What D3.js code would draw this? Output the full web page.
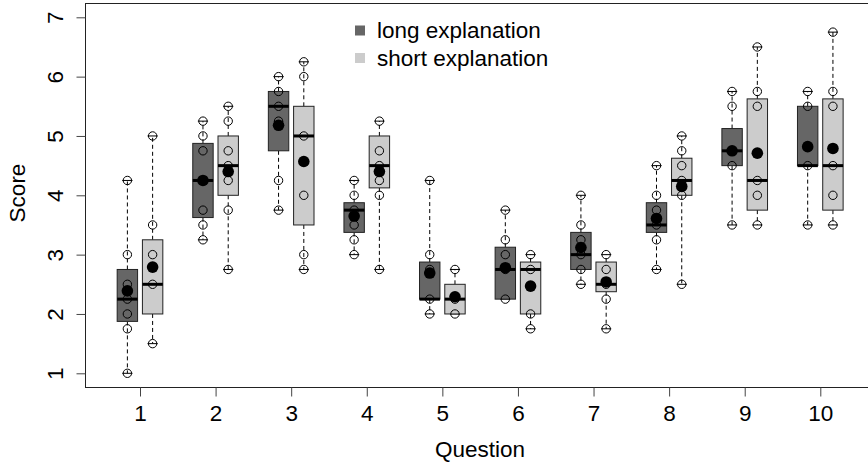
<!DOCTYPE html>
<html>
<head>
<meta charset="utf-8">
<script src="https://cdn.jsdelivr.net/npm/d3@7"></script>
<style>
  html, body { margin: 0; padding: 0; background: #fff; }
  svg { display: block; }
  text { font-family: "Liberation Sans", Arial, Helvetica, sans-serif; fill: #000; }
</style>
</head>
<body>
<svg id="chart" width="868" height="464"></svg>
<script>
// ---- data ----
const questions = ["1","2","3","4","5","6","7","8","9","10"];
const seriesNames = ["long explanation", "short explanation"];
const yTicks = [1,2,3,4,5,6,7];

// [min, q1, median, q3, max]
const longStats = [
  [1.0, 1.875, 2.25, 2.75, 4.25],
  [3.25, 3.625, 4.25, 4.875, 5.25],
  [3.75, 4.75, 5.5, 5.75, 6.0],
  [3.0, 3.375, 3.75, 3.875, 4.25],
  [2.0, 2.25, 2.25, 2.875, 4.25],
  [2.25, 2.25, 2.75, 3.125, 3.75],
  [2.5, 2.75, 3.0, 3.375, 4.0],
  [2.75, 3.375, 3.5, 3.875, 4.5],
  [3.5, 4.5, 4.75, 5.125, 5.75],
  [3.5, 4.5, 4.5, 5.5, 5.75]
];
const shortStats = [
  [1.5, 2.0, 2.5, 3.25, 5.0],
  [2.75, 4.0, 4.5, 5.0, 5.5],
  [2.75, 3.5, 5.0, 5.5, 6.25],
  [2.75, 4.125, 4.5, 5.0, 5.25],
  [2.0, 2.0, 2.25, 2.5, 2.75],
  [1.75, 2.0, 2.75, 2.875, 3.0],
  [1.75, 2.375, 2.5, 2.875, 3.0],
  [2.5, 4.0, 4.25, 4.625, 5.0],
  [3.5, 3.75, 4.25, 5.625, 6.5],
  [3.5, 3.75, 4.5, 5.625, 6.75]
];
const longMeans  = [2.39, 4.25, 5.18, 3.65, 2.69, 2.78, 3.12, 3.61, 4.75, 4.82];
const shortMeans = [2.79, 4.40, 4.57, 4.40, 2.29, 2.47, 2.54, 4.15, 4.71, 4.79];
const longPoints = [
  [1.0, 1.75, 2.0, 2.25, 2.5, 3.0, 4.25],
  [3.25, 3.5, 3.75, 4.25, 4.75, 5.0, 5.25],
  [3.75, 4.25, 5.25, 5.5, 5.75, 6.0],
  [3.0, 3.25, 3.5, 3.75, 4.0, 4.25],
  [2.0, 2.25, 2.75, 3.0, 4.25],
  [2.25, 2.75, 3.0, 3.25, 3.75],
  [2.5, 2.75, 3.0, 3.25, 3.5, 4.0],
  [2.75, 3.25, 3.5, 3.75, 4.0, 4.5],
  [3.5, 4.5, 4.75, 5.5, 5.75],
  [3.5, 4.5, 5.5, 5.75]
];
const shortPoints = [
  [1.5, 2.5, 3.0, 3.5, 5.0],
  [2.75, 3.75, 4.25, 4.5, 4.75, 5.25, 5.5],
  [2.75, 3.0, 4.0, 5.0, 6.0, 6.25],
  [2.75, 4.0, 4.25, 4.5, 4.75, 5.25],
  [2.0, 2.25, 2.75],
  [1.75, 2.0, 2.75, 3.0],
  [1.75, 2.25, 2.5, 2.75, 3.0],
  [2.5, 4.0, 4.25, 4.5, 4.75, 5.0],
  [3.5, 4.0, 4.25, 5.5, 5.75, 6.5],
  [3.5, 4.0, 4.5, 5.5, 5.75, 6.75]
];

// ---- layout ----
const colors = ["#666666", "#cccccc"];
const offsets = [-0.167, 0.167];
const boxW = 0.27;
const FS = 22.5;

const svg = d3.select("#chart");
const frame = {left: 85.5, top: 3.5, right: 876, bottom: 387.5};

const x = d3.scaleLinear().domain([1, 10]).range([140, 820.3]);
const y = d3.scaleLinear().domain([1, 7]).range([373.3, 17.3]);

// frame
svg.append("rect")
  .attr("x", frame.left).attr("y", frame.top)
  .attr("width", frame.right - frame.left).attr("height", frame.bottom - frame.top)
  .attr("fill", "none").attr("stroke", "#222").attr("stroke-width", 1);

// y axis
const yAxis = d3.axisLeft(y).tickValues(yTicks).tickSize(9).tickFormat(d3.format("d"));
const gy = svg.append("g").attr("transform", `translate(${frame.left},0)`).call(yAxis);
gy.select(".domain").remove();
gy.selectAll(".tick line").attr("stroke", "#444");
gy.selectAll(".tick text")
  .attr("x", null).attr("dy", null)
  .attr("transform", "translate(-23,0) rotate(-90)")
  .attr("text-anchor", "middle")
  .style("font-size", FS + "px")
  .style("font-family", '"Liberation Sans", Arial, sans-serif');

// x axis
const xAxis = d3.axisBottom(x).tickValues(d3.range(1, 11)).tickSize(9).tickFormat((d, i) => questions[i]);
const gx = svg.append("g").attr("transform", `translate(0,${frame.bottom})`).call(xAxis);
gx.select(".domain").remove();
gx.selectAll(".tick line").attr("stroke", "#444");
gx.selectAll(".tick text")
  .attr("y", null).attr("dy", null)
  .attr("transform", "translate(0,33)")
  .style("font-size", FS + "px")
  .style("font-family", '"Liberation Sans", Arial, sans-serif');

// axis titles
svg.append("text").attr("x", 480).attr("y", 457).attr("text-anchor", "middle")
  .style("font-size", FS + "px").text("Question");
svg.append("text").attr("transform", "translate(25,193) rotate(-90)").attr("text-anchor", "middle")
  .style("font-size", FS + "px").text("Score");

// boxes
const series = [
  {stats: longStats, means: longMeans, points: longPoints},
  {stats: shortStats, means: shortMeans, points: shortPoints}
];
const halfW = (x(1 + boxW) - x(1)) / 2;
const staple = halfW * 0.5;

series.forEach((s, si) => {
  const g = svg.append("g");
  questions.forEach((q, qi) => {
    const cx = x(qi + 1 + offsets[si]);
    const [mn, q1, md, q3, mx] = s.stats[qi];
    // whiskers
    g.append("line").attr("x1", cx).attr("x2", cx).attr("y1", y(q3)).attr("y2", y(mx))
      .attr("stroke", "#000").attr("stroke-dasharray", "4,3");
    g.append("line").attr("x1", cx).attr("x2", cx).attr("y1", y(q1)).attr("y2", y(mn))
      .attr("stroke", "#000").attr("stroke-dasharray", "4,3");
    g.append("line").attr("x1", cx - staple).attr("x2", cx + staple).attr("y1", y(mx)).attr("y2", y(mx))
      .attr("stroke", "#000");
    g.append("line").attr("x1", cx - staple).attr("x2", cx + staple).attr("y1", y(mn)).attr("y2", y(mn))
      .attr("stroke", "#000");
    // box
    g.append("rect").attr("x", cx - halfW).attr("width", 2 * halfW)
      .attr("y", y(q3)).attr("height", y(q1) - y(q3))
      .attr("fill", colors[si]).attr("stroke", "#222").attr("stroke-width", 1);
    // median
    g.append("line").attr("x1", cx - halfW).attr("x2", cx + halfW).attr("y1", y(md)).attr("y2", y(md))
      .attr("stroke", "#000").attr("stroke-width", 3);
  });
});

// points and means on top
series.forEach((s, si) => {
  const g = svg.append("g");
  questions.forEach((q, qi) => {
    const cx = x(qi + 1 + offsets[si]);
    s.points[qi].forEach(v => {
      g.append("circle").attr("cx", cx).attr("cy", y(v)).attr("r", 4.2)
        .attr("fill", "none").attr("stroke", "#000").attr("stroke-width", 1);
    });
    g.append("circle").attr("cx", cx).attr("cy", y(s.means[qi])).attr("r", 5.8).attr("fill", "#000");
  });
});

// legend
const leg = svg.append("g");
seriesNames.forEach((name, i) => {
  const cy = 30.5 + i * 27.5;
  leg.append("rect").attr("x", 355).attr("y", cy - 5).attr("width", 10).attr("height", 10)
    .attr("fill", colors[i]);
  leg.append("text").attr("x", 377).attr("y", cy + 7.5)
    .style("font-size", FS + "px").text(name);
});
</script>
</body>
</html>
